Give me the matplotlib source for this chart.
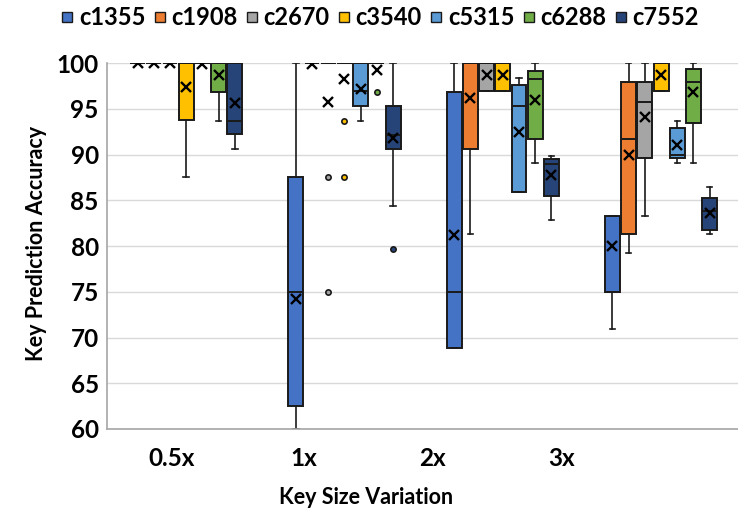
import numpy as np
import matplotlib.pyplot as plt
from matplotlib.lines import Line2D

plt.rcParams['font.family'] = ['Lato', 'DejaVu Sans']
plt.rcParams['font.weight'] = 'bold'

groups = ['0.5x', '1x', '2x', '3x']
series = ['c1355', 'c1908', 'c2670', 'c3540', 'c5315', 'c6288', 'c7552']
colors = ['#4472C4', '#ED7D31', '#A5A5A5', '#FFC000', '#5B9BD5', '#70AD47', '#264478']

# box statistics per series, one value per key size (0.5x, 1x, 2x, 3x)
q1 = {
    'c1355': [100, 62.5, 68.8, 75.0],
    'c1908': [100, 100, 90.6, 81.3],
    'c2670': [100, 100, 96.9, 89.6],
    'c3540': [93.8, 100, 96.9, 96.9],
    'c5315': [100, 95.3, 85.9, 89.6],
    'c6288': [96.8, 100, 91.7, 93.5],
    'c7552': [92.2, 90.6, 85.5, 81.8],
}
median = {
    'c1355': [100, 75.0, 75.0, 75.0],
    'c1908': [100, 100, 100, 91.7],
    'c2670': [100, 100, 100, 95.8],
    'c3540': [100, 100, 100, 100],
    'c5315': [100, 96.9, 95.3, 90.0],
    'c6288': [100, 100, 98.3, 97.9],
    'c7552': [93.7, 92.1, 89.0, 83.8],
}
q3 = {
    'c1355': [100, 87.5, 96.8, 83.3],
    'c1908': [100, 100, 100, 97.9],
    'c2670': [100, 100, 100, 97.9],
    'c3540': [100, 100, 100, 100],
    'c5315': [100, 100, 97.6, 92.9],
    'c6288': [100, 100, 99.1, 99.4],
    'c7552': [100, 95.3, 89.5, 85.2],
}
whisker_lo = {
    'c1355': [100, 60.0, 68.8, 70.9],
    'c1908': [100, 100, 81.3, 79.2],
    'c2670': [100, 100, 96.9, 83.3],
    'c3540': [87.5, 100, 96.9, 96.9],
    'c5315': [100, 93.7, 85.9, 89.1],
    'c6288': [93.7, 100, 89.1, 89.1],
    'c7552': [90.6, 84.4, 82.8, 81.3],
}
whisker_hi = {
    'c1355': [100, 100, 100, 83.3],
    'c1908': [100, 100, 100, 100],
    'c2670': [100, 100, 100, 100],
    'c3540': [100, 100, 100, 100],
    'c5315': [100, 100, 98.4, 93.7],
    'c6288': [100, 100, 100, 100],
    'c7552': [100, 100, 89.8, 86.5],
}
mean = {
    'c1355': [100, 74.2, 81.2, 80.0],
    'c1908': [100, 99.9, 96.2, 89.9],
    'c2670': [100, 95.8, 98.7, 94.1],
    'c3540': [97.4, 98.3, 98.7, 98.7],
    'c5315': [99.9, 97.2, 92.5, 91.0],
    'c6288': [98.7, 99.3, 96.0, 96.8],
    'c7552': [95.6, 91.8, 87.8, 83.6],
}
outliers = {
    'c2670': {1: [87.5, 75.0]},
    'c3540': {1: [93.7, 87.5]},
    'c6288': {1: [96.8]},
    'c7552': {1: [79.7]},
}

# x positions of the category labels under the axis
label_x = [-0.09, 0.74, 1.555, 2.37]

fig = plt.figure(figsize=(7.38, 5.11), dpi=100)
ax = fig.add_axes([0.145, 0.1605, 0.858, 0.716])

step = 0.1024
width = 0.094
base = np.arange(len(groups))

for j, (name, col) in enumerate(zip(series, colors)):
    stats = []
    for g in range(len(groups)):
        stats.append(dict(
            q1=q1[name][g], med=median[name][g], q3=q3[name][g],
            whislo=whisker_lo[name][g], whishi=whisker_hi[name][g],
            mean=mean[name][g],
            fliers=outliers.get(name, {}).get(g, []),
        ))
    pos = base + (j - 3) * step
    ax.bxp(stats, positions=pos, widths=width, capwidths=0.035,
           patch_artist=True, showmeans=True, manage_ticks=False,
           boxprops=dict(facecolor=col, edgecolor='#1a1a1a', linewidth=1.4),
           medianprops=dict(color='#1a1a1a', linewidth=1.4),
           whiskerprops=dict(color='#1a1a1a', linewidth=1.2),
           capprops=dict(color='#1a1a1a', linewidth=1.2),
           meanprops=dict(marker='x', markeredgecolor='black', markersize=6.5,
                          markeredgewidth=1.7),
           flierprops=dict(marker='o', markerfacecolor=col, markeredgecolor='#1a1a1a',
                           markersize=3.8, markeredgewidth=1.2))

ax.set_xlim(-0.5, 3.5)
ax.set_ylim(60, 100)
ax.set_yticks(np.arange(60, 101, 5))
ax.set_xticks(label_x)
ax.set_xticklabels(groups)
ax.tick_params(axis='both', length=0, labelsize=17.5)
ax.tick_params(axis='x', pad=13)
ax.tick_params(axis='y', pad=6)
ax.yaxis.grid(True, color='#d9d9d9', linewidth=1)
ax.set_axisbelow(True)
for s in ['top', 'right']:
    ax.spines[s].set_visible(False)
for s in ['left', 'bottom']:
    ax.spines[s].set_color('#a6a6a6')
    ax.spines[s].set_linewidth(1.2)

fig.text(0.05, 0.524, 'Key Prediction Accuracy', rotation=90, ha='center',
         va='center', fontsize=15.5, fontweight='bold')
fig.text(0.496, 0.026, 'Key Size Variation', ha='center', va='center',
         fontsize=15.5, fontweight='bold')

handles = [Line2D([], [], linestyle='none', marker='s', markersize=7,
                  markerfacecolor=c, markeredgecolor='#1a1a1a', markeredgewidth=1)
           for c in colors]
fig.legend(handles, series, loc='center', bbox_to_anchor=(0.515, 0.966), ncol=7,
           frameon=False, fontsize=17, handlelength=0.5, handletextpad=0.25,
           columnspacing=0.35, borderpad=0)

fig.savefig('out.png', dpi=100)
